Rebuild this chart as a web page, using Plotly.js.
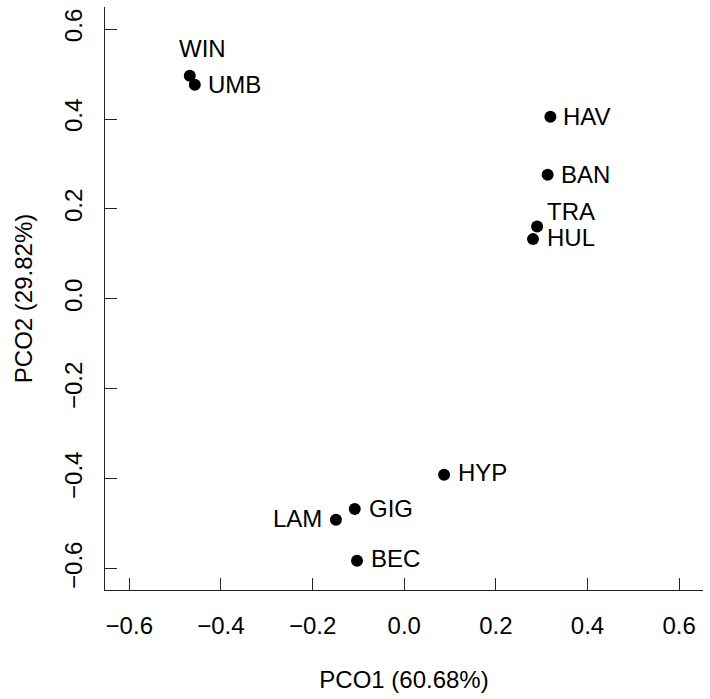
<!DOCTYPE html>
<html>
<head>
<meta charset="utf-8">
<script src="https://cdn.plot.ly/plotly-3.0.1.min.js"></script>
<style>html,body{margin:0;padding:0;background:#fff;}#chart{width:710px;height:699px;}</style>
</head>
<body>
<div id="chart"></div>
<script>
// Data
const sites = ["WIN", "UMB", "HAV", "BAN", "TRA", "HUL", "HYP", "GIG", "LAM", "BEC"];
const pco1  = [-0.468, -0.457, 0.319, 0.313, 0.290, 0.281, 0.087, -0.108, -0.149, -0.103];
const pco2  = [0.496, 0.476, 0.405, 0.276, 0.161, 0.133, -0.391, -0.467, -0.491, -0.582];
const xTicks = [-0.6, -0.4, -0.2, 0.0, 0.2, 0.4, 0.6];
const yTicks = [-0.6, -0.4, -0.2, 0.0, 0.2, 0.4, 0.6];
const xTitle = "PCO1 (60.68%)";
const yTitle = "PCO2 (29.82%)";

// label placement (style, not data)
const place = {
  WIN: {xanchor: "center", xshift: 13, yshift: 27},
  UMB: {xanchor: "left", xshift: 11, yshift: 0},
  TRA: {xanchor: "left", xshift: 8, yshift: 15},
  LAM: {xanchor: "right", xshift: -12, yshift: 1},
  HYP: {xanchor: "left", xshift: 12, yshift: 2},
  GIG: {xanchor: "left", xshift: 12, yshift: 1},
  BEC: {xanchor: "left", xshift: 12, yshift: 2},
  HUL: {xanchor: "left", xshift: 12, yshift: 2}
};
const defPlace = {xanchor: "left", xshift: 11, yshift: 0};

const font = {family: "Liberation Sans, Arial, sans-serif", size: 24, color: "#000"};

const annotations = sites.map((s, i) => {
  const p = place[s] || defPlace;
  return {
    x: pco1[i], y: pco2[i], xref: "x", yref: "y",
    text: s, showarrow: false,
    xanchor: p.xanchor, yanchor: "middle",
    xshift: p.xshift, yshift: p.yshift,
    font: font
  };
});

const trace = {
  type: "scatter", mode: "markers",
  x: pco1, y: pco2, text: sites,
  marker: {color: "#000", size: 12},
  hoverinfo: "text"
};

const axisCommon = {
  showgrid: false, zeroline: false,
  showline: true, linecolor: "#222", linewidth: 1,
  ticks: "inside", ticklen: 12, tickcolor: "#222", tickwidth: 1,
  tickfont: font, tickmode: "array"
};

const layout = {
  width: 710, height: 699,
  margin: {l: 105, r: 7, t: 7, b: 109},
  paper_bgcolor: "#fff", plot_bgcolor: "#fff",
  showlegend: false,
  font: font,
  xaxis: Object.assign({}, axisCommon, {
    range: [-0.653, 0.652],
    tickvals: xTicks,
    ticktext: xTicks.map(v => v.toFixed(1).replace("-", "\u2212")),
    ticklabelstandoff: 14,
    title: {text: xTitle, font: font, standoff: 33}
  }),
  yaxis: Object.assign({}, axisCommon, {
    range: [-0.647, 0.649],
    tickvals: yTicks,
    ticktext: yTicks.map(v => v.toFixed(1).replace("-", "\u2212")),
    tickangle: -90,
    ticklabelstandoff: 12,
    title: {text: yTitle, font: font, standoff: 21}
  }),
  annotations: annotations
};

Plotly.newPlot("chart", [trace], layout, {displayModeBar: false, staticPlot: true});
</script>
</body>
</html>
